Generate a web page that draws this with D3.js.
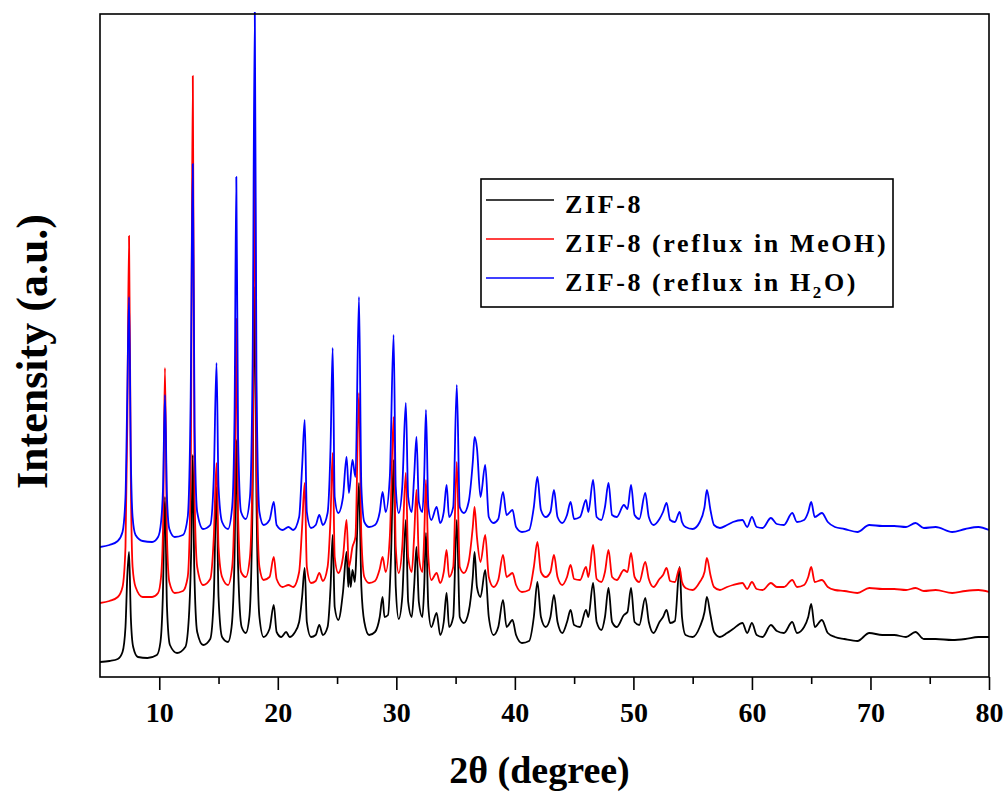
<!DOCTYPE html>
<html><head><meta charset="utf-8">
<script src="https://cdn.jsdelivr.net/npm/d3@7"></script>
<style>
html,body{margin:0;padding:0;background:#fff;}
svg text{font-family:"Liberation Serif","Times New Roman",serif;font-weight:bold;fill:#000;}
</style></head>
<body>
<svg id="chart" width="1008" height="794"></svg>
<script>
// ---------- data (2θ in degrees, intensity in a.u., traces stacked as shown) ----------
const seriesNames = ["ZIF-8", "ZIF-8 (reflux in MeOH)", "ZIF-8 (reflux in H2O)"];
const seriesColors = ["#000000", "#ff0000", "#0000ff"];
const xTicks = [10, 20, 30, 40, 50, 60, 70, 80];
const xMinorTicks = [15, 25, 35, 45, 55, 65, 75];

const zif8 = [
[5.0,15],[5.8,16],[6.5,18],[6.9,25],[7.15,50],[7.3,100],[7.45,125],[7.6,60],[7.8,30],[8.2,20],[9.0,19],[9.8,22],
[10.1,35],[10.3,80],[10.48,180],[10.65,70],[10.9,32],[11.5,24],[12.2,30],[12.5,60],[12.7,130],[12.83,222],[12.95,110],
[13.2,45],[13.7,32],[14.3,38],[14.6,80],[14.83,190],[15.0,80],[15.3,40],[15.8,35],[16.1,50],[16.35,120],[16.5,237],
[16.65,110],[16.95,50],[17.3,44],[17.6,60],[17.85,160],[18.06,390],[18.2,180],[18.45,60],[18.8,40],[19.3,48],[19.66,72],
[19.9,45],[20.3,40],[20.7,45],[21.0,40],[21.4,44],[21.8,55],[22.05,80],[22.27,109],[22.45,55],[22.8,40],[23.2,42],
[23.5,52],[23.8,42],[24.2,50],[24.45,90],[24.63,142],[24.8,70],[25.1,57],[25.5,85],[25.8,125],[25.95,90],[26.0,110],
[26.15,90],[26.3,107],[26.5,95],[26.65,130],[26.85,194],[27.05,90],[27.3,55],[27.7,42],[28.2,45],[28.6,60],[28.84,80],
[29.0,60],[29.3,62],[29.55,120],[29.77,217],[29.95,90],[30.2,58],[30.5,80],[30.8,157],[31.0,75],[31.3,60],[31.5,90],
[31.7,130],[31.9,75],[32.2,60],[32.35,90],[32.5,144],[32.7,70],[32.95,50],[33.4,64],[33.7,42],[34.0,55],[34.24,84],
[34.45,50],[34.8,60],[35.1,157],[35.35,60],[35.7,54],[36.1,65],[36.45,100],[36.6,125],[36.8,90],[37.1,80],[37.5,107],
[37.8,60],[38.2,42],[38.6,50],[39.0,77],[39.3,50],[39.8,57],[40.1,42],[40.6,34],[41.2,36],[41.6,60],[41.9,95],[42.2,60],
[42.6,50],[43.0,60],[43.3,82],[43.6,55],[44.0,44],[44.4,55],[44.7,67],[45.0,52],[45.5,50],[46.0,67],[46.2,60],[46.6,94],
[46.9,55],[47.3,47],[47.6,60],[47.9,89],[48.2,55],[48.6,50],[49.2,62],[49.5,65],[49.8,89],[50.1,55],[50.5,52],[51.0,79],
[51.3,55],[51.7,44],[52.2,55],[52.5,60],[52.8,67],[53.1,54],[53.5,56],[53.9,110],[54.1,60],[54.4,42],[55.0,40],[55.6,50],
[56.0,65],[56.2,80],[56.5,62],[56.8,45],[57.3,40],[57.9,44],[58.4,48],[59.2,54],[59.6,44],[60.0,54],[60.4,42],[60.9,40],
[61.6,52],[62.1,46],[62.7,44],[63.4,55],[63.8,44],[64.4,50],[64.75,60],[65.0,73],[65.3,50],[65.9,57],[66.4,44],[67.0,40],
[67.8,38],[68.9,36],[69.9,44],[71.0,42],[72.0,42],[73.0,40],[73.8,45],[74.5,38],[75.5,38],[76.9,37],[78.0,38],[79.1,40],[80.0,40]
];

const zif8MeOH = [
[5.0,74],[5.8,76],[6.5,80],[6.9,90],[7.15,130],[7.3,250],[7.45,441],[7.6,200],[7.75,110],[8.0,90],[8.6,80],[9.4,80],
[9.9,84],[10.15,100],[10.32,150],[10.48,309],[10.65,140],[10.85,95],[11.3,84],[12.0,86],[12.4,100],[12.65,200],[12.83,601],
[12.98,180],[13.2,110],[13.7,92],[14.3,98],[14.6,140],[14.83,214],[15.0,130],[15.3,100],[15.8,92],[16.15,110],[16.35,180],
[16.5,358],[16.65,160],[16.9,105],[17.3,100],[17.65,120],[17.88,220],[18.06,530],[18.2,220],[18.45,110],[18.8,97],[19.3,100],
[19.66,120],[19.9,98],[20.4,90],[20.9,92],[21.3,90],[21.8,105],[22.05,150],[22.27,194],[22.45,110],[22.8,94],[23.2,96],
[23.5,104],[23.8,96],[24.2,110],[24.45,160],[24.63,224],[24.8,120],[25.1,104],[25.5,120],[25.8,157],[26.0,110],[26.3,130],
[26.55,140],[26.85,284],[27.05,140],[27.3,100],[27.7,94],[28.2,96],[28.6,108],[28.84,120],[29.1,105],[29.45,140],[29.77,260],
[29.95,130],[30.2,104],[30.5,130],[30.8,204],[31.0,120],[31.3,105],[31.5,140],[31.7,187],[31.9,120],[32.2,105],[32.35,140],
[32.5,197],[32.7,120],[32.95,97],[33.4,104],[33.7,94],[34.0,105],[34.24,127],[34.45,100],[34.8,110],[35.1,215],[35.35,110],
[35.7,104],[36.1,115],[36.45,150],[36.6,170],[36.8,140],[37.1,115],[37.5,142],[37.8,100],[38.2,90],[38.6,97],[39.0,122],
[39.3,100],[39.8,104],[40.1,92],[40.6,85],[41.2,87],[41.6,110],[41.9,135],[42.2,105],[42.6,100],[43.0,105],[43.3,122],
[43.6,100],[44.0,92],[44.4,100],[44.7,112],[45.0,98],[45.5,97],[46.0,110],[46.2,100],[46.6,132],[46.9,98],[47.3,95],
[47.6,105],[47.9,127],[48.2,100],[48.6,97],[49.2,107],[49.5,105],[49.8,124],[50.1,100],[50.5,95],[51.0,115],[51.3,98],
[51.7,90],[52.2,98],[52.5,102],[52.8,109],[53.1,96],[53.5,95],[53.9,109],[54.1,95],[54.4,89],[55.0,87],[55.6,95],[56.0,105],
[56.2,119],[56.5,102],[56.8,90],[57.3,87],[57.9,90],[58.4,92],[59.2,94],[59.6,88],[60.0,95],[60.4,88],[60.9,87],[61.6,94],
[62.1,90],[62.7,90],[63.4,97],[63.8,90],[64.4,92],[64.75,100],[65.0,110],[65.3,95],[65.9,97],[66.4,90],[67.0,87],[67.8,86],
[68.9,84],[69.9,89],[71.0,88],[72.0,88],[73.0,87],[73.8,89],[74.5,86],[75.5,87],[76.9,84],[78.0,86],[79.1,87],[80.0,85]
];

const zif8H2O = [
[5.0,130],[5.8,132],[6.5,136],[6.9,145],[7.15,180],[7.3,280],[7.45,380],[7.6,220],[7.75,160],[8.0,142],[8.6,136],[9.4,135],
[9.9,140],[10.15,155],[10.32,190],[10.48,282],[10.65,180],[10.85,148],[11.3,140],[12.0,142],[12.4,160],[12.65,280],[12.83,513],
[12.98,250],[13.2,165],[13.7,148],[14.3,152],[14.6,200],[14.83,314],[15.0,190],[15.3,155],[15.8,148],[16.15,170],[16.35,260],
[16.5,500],[16.65,240],[16.9,165],[17.3,158],[17.65,180],[17.88,320],[18.06,665],[18.2,300],[18.45,165],[18.8,152],[19.3,157],
[19.66,175],[19.9,152],[20.4,147],[20.9,150],[21.3,147],[21.8,160],[22.05,210],[22.27,257],[22.45,165],[22.8,149],[23.2,152],
[23.5,162],[23.8,152],[24.2,164],[24.45,230],[24.63,329],[24.8,180],[25.1,164],[25.5,180],[25.8,220],[26.0,184],[26.3,217],
[26.55,200],[26.85,380],[27.05,190],[27.3,155],[27.7,150],[28.2,152],[28.6,165],[28.84,185],[29.1,165],[29.45,200],[29.77,342],
[29.95,190],[30.2,164],[30.5,190],[30.8,274],[31.0,180],[31.3,165],[31.5,200],[31.7,240],[31.9,175],[32.2,165],[32.35,200],
[32.5,267],[32.7,170],[32.95,157],[33.4,170],[33.7,154],[34.0,165],[34.24,192],[34.45,160],[34.8,170],[35.1,292],[35.35,170],
[35.7,164],[36.1,175],[36.45,215],[36.6,240],[36.8,229],[37.1,180],[37.5,212],[37.8,160],[38.2,154],[38.6,158],[39.0,185],
[39.3,162],[39.8,167],[40.1,150],[40.6,145],[41.2,147],[41.6,170],[41.9,200],[42.2,167],[42.6,160],[43.0,165],[43.3,187],
[43.6,160],[44.0,154],[44.4,162],[44.7,175],[45.0,158],[45.5,160],[46.0,177],[46.2,165],[46.6,197],[46.9,160],[47.3,157],
[47.6,170],[47.9,194],[48.2,162],[48.6,160],[49.2,172],[49.5,168],[49.8,192],[50.1,162],[50.5,158],[51.0,184],[51.3,160],
[51.7,152],[52.2,158],[52.5,165],[52.8,174],[53.1,157],[53.5,155],[53.9,165],[54.1,155],[54.4,150],[55.0,148],[55.6,155],
[56.0,170],[56.2,187],[56.5,167],[56.8,152],[57.3,149],[57.9,152],[58.4,155],[59.2,157],[59.6,150],[60.0,160],[60.4,150],
[60.9,149],[61.6,159],[62.1,153],[62.7,152],[63.4,164],[63.8,155],[64.4,157],[64.75,165],[65.0,175],[65.3,160],[65.9,164],
[66.4,155],[67.0,150],[67.8,148],[68.9,145],[69.9,152],[71.0,151],[72.0,151],[73.0,150],[73.8,154],[74.5,149],[75.5,150],
[76.9,145],[78.0,148],[79.1,150],[80.0,147]
];

// ---------- layout ----------
const svg = d3.select("#chart");
const L = 100, R = 989, T = 14, B = 677;
const x = d3.scaleLinear().domain([5, 80]).range([L, R]);
const y = d3.scaleLinear().domain([0, 663]).range([B, T]);

const line = d3.line().x(d => x(d[0])).y(d => y(d[1])).curve(d3.curveMonotoneX);

svg.append("clipPath").attr("id", "plotclip")
  .append("rect").attr("x", L).attr("y", T - 2).attr("width", R - L).attr("height", B - T + 2);

const plot = svg.append("g").attr("clip-path", "url(#plotclip)");
[zif8, zif8MeOH, zif8H2O].forEach((data, i) => {
  plot.append("path").datum(data)
    .attr("d", line)
    .attr("fill", "none")
    .attr("stroke", seriesColors[i])
    .attr("stroke-width", 1.8)
    .attr("stroke-linejoin", "round");
});

// frame
svg.append("rect").attr("x", L).attr("y", T).attr("width", R - L).attr("height", B - T)
  .attr("fill", "none").attr("stroke", "#000").attr("stroke-width", 1.6);

// x axis
const xAxis = d3.axisBottom(x).tickValues(xTicks).tickSize(13).tickPadding(12).tickFormat(d3.format("d"));
const gx = svg.append("g").attr("transform", `translate(0,${B})`).call(xAxis);
gx.select(".domain").remove();
gx.selectAll(".tick line").attr("stroke", "#000").attr("stroke-width", 1.6);
gx.selectAll(".tick text").style("font-size", "28px").attr("dy", "0.71em");
const xMinor = d3.axisBottom(x).tickValues(xMinorTicks).tickSize(7).tickFormat("");
const gxm = svg.append("g").attr("transform", `translate(0,${B})`).call(xMinor);
gxm.select(".domain").remove();
gxm.selectAll(".tick line").attr("stroke", "#000").attr("stroke-width", 1.6);

// axis titles
svg.append("text").attr("x", (L + R) / 2 - 5).attr("y", 783).attr("text-anchor", "middle")
  .style("font-size", "38px").text("2θ (degree)");
svg.append("text").attr("transform", `translate(47,${(T + B) / 2 + 6}) rotate(-90)`)
  .attr("text-anchor", "middle").style("font-size", "44px").text("Intensity (a.u.)");

// legend
const lg = svg.append("g");
lg.append("rect").attr("x", 481).attr("y", 179).attr("width", 412).attr("height", 128)
  .attr("fill", "#fff").attr("stroke", "#000").attr("stroke-width", 1.6);
const rowsY = [200, 239, 278];
seriesNames.forEach((name, i) => {
  lg.append("line").attr("x1", 486).attr("x2", 554).attr("y1", rowsY[i]).attr("y2", rowsY[i])
    .attr("stroke", seriesColors[i]).attr("stroke-width", 1.6);
  const t = lg.append("text").attr("x", 565).attr("y", rowsY[i] + 13)
    .style("font-size", "26px").style("letter-spacing", "2.6px");
  if (name.indexOf("H2O") >= 0) {
    const parts = name.split("H2O");
    t.append("tspan").text(parts[0] + "H");
    t.append("tspan").attr("dy", 7).style("font-size", "17px").text("2");
    t.append("tspan").attr("dy", -7).text("O" + parts[1]);
  } else {
    t.text(name);
  }
});
</script>
</body></html>
